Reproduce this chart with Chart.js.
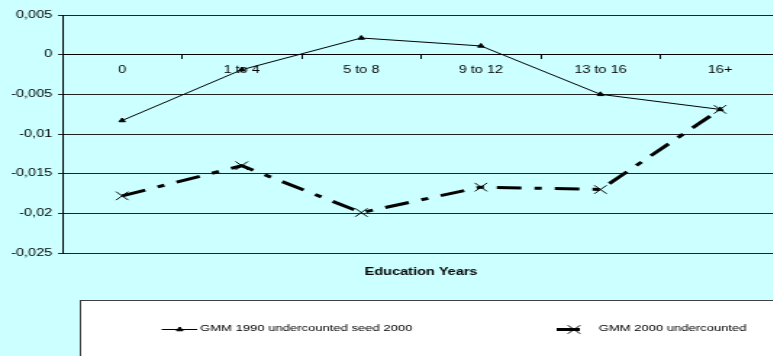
<!DOCTYPE html>
<html>
<head>
<meta charset="utf-8">
<script src="https://cdn.jsdelivr.net/npm/chart.js@4/dist/chart.umd.min.js"></script>
<style>
  html, body { margin: 0; padding: 0; background: #ccffff; overflow: hidden; width: 773px; height: 356px; }
</style>
</head>
<body>
<!-- the chart is drawn narrow and shown widened, as in the exported sheet -->
<canvas id="chart" width="545" height="356" style="display:block;width:790px;height:356px"></canvas>
<script>
// Education-year groups along the x axis
const categories = ['0', '1 to 4', '5 to 8', '9 to 12', '13 to 16', '16+'];

// Series names
const seriesNames = ['GMM 1990 undercounted seed 2000', 'GMM 2000 undercounted'];

// Estimated effects per education group
const gmm1990Seed2000 = [-0.0083, -0.0019, 0.0021, 0.0011, -0.0050, -0.0069];
const gmm2000Undercounted = [-0.0178, -0.0140, -0.0199, -0.0167, -0.0170, -0.0069];

// Y axis ticks and their labels (decimal comma)
const yTickValues = [-0.025, -0.02, -0.015, -0.01, -0.005, 0, 0.005];
const yTickLabels = ['-0,025', '-0,02', '-0,015', '-0,01', '-0,005', '0', '0,005'];

const xAxisTitle = 'Education Years';

const FONT = "'Liberation Sans', Arial, sans-serif";

// Axis title under the plot and the framed legend at the bottom
const decorations = {
  id: 'decorations',
  afterDraw(chart) {
    const ctx = chart.ctx;
    const area = chart.chartArea;
    const ds = chart.data.datasets;
    ctx.save();

    ctx.fillStyle = '#000';
    ctx.font = `bold 10px ${FONT}`;
    ctx.textAlign = 'center';
    ctx.textBaseline = 'middle';
    ctx.fillText(xAxisTitle, (area.left + area.right) / 2, 272);

    // legend frame
    ctx.fillStyle = '#ffffff';
    ctx.fillRect(55.5, 300.5, 600, 100);
    ctx.strokeStyle = '#404040';
    ctx.lineWidth = 1;
    ctx.strokeRect(55.5, 300.5, 600, 100);

    const rowY = 329;
    ctx.font = `9px ${FONT}`;
    ctx.textAlign = 'left';

    // entry 1: thin line with triangle
    ctx.strokeStyle = ds[0].borderColor;
    ctx.lineWidth = ds[0].borderWidth;
    ctx.beginPath();
    ctx.moveTo(111.5, rowY + 0.5);
    ctx.lineTo(136, rowY + 0.5);
    ctx.stroke();
    ctx.fillStyle = ds[0].pointBackgroundColor;
    Chart.helpers.drawPoint(ctx, { pointStyle: ds[0].pointStyle, radius: ds[0].pointRadius, borderWidth: ds[0].pointBorderWidth, rotation: 0 }, 124, rowY + 0.5);
    ctx.fillStyle = '#000';
    ctx.fillText(ds[0].label, 138, rowY);

    // entry 2: thick line with cross
    ctx.strokeStyle = ds[1].borderColor;
    ctx.lineWidth = ds[1].borderWidth;
    ctx.beginPath();
    ctx.moveTo(384, rowY + 0.5);
    ctx.lineTo(400, rowY + 0.5);
    ctx.stroke();
    ctx.lineWidth = ds[1].pointBorderWidth;
    Chart.helpers.drawPoint(ctx, { pointStyle: ds[1].pointStyle, radius: ds[1].pointRadius, borderWidth: ds[1].pointBorderWidth, rotation: 0 }, 396, rowY + 0.5);
    ctx.fillStyle = '#000';
    ctx.fillText(ds[1].label, 413, rowY);

    ctx.restore();
  }
};

new Chart(document.getElementById('chart'), {
  type: 'line',
  data: {
    labels: categories,
    datasets: [
      {
        label: seriesNames[0],
        data: gmm1990Seed2000,
        borderColor: '#000',
        borderWidth: 1,
        pointStyle: 'triangle',
        pointRadius: 2.5,
        pointBorderWidth: 1,
        pointBackgroundColor: '#000',
        pointBorderColor: '#000',
        tension: 0,
        fill: false
      },
      {
        label: seriesNames[1],
        data: gmm2000Undercounted,
        borderColor: '#000',
        borderWidth: 3,
        borderDash: [17, 9, 5, 9],
        pointStyle: 'crossRot',
        pointRadius: 6,
        pointBorderWidth: 1,
        pointBackgroundColor: '#000',
        pointBorderColor: '#000',
        tension: 0,
        fill: false
      }
    ]
  },
  options: {
    responsive: false,
    animation: false,
    devicePixelRatio: 1,
    layout: { padding: { top: 15, bottom: 103, left: 0, right: 1 } },
    plugins: {
      legend: { display: false },
      tooltip: { enabled: false }
    },
    scales: {
      x: {
        type: 'category',
        position: { y: 0 },
        offset: true,
        grid: { offset: true, drawOnChartArea: false, drawTicks: true, tickLength: 4, color: '#000' },
        border: { display: true, color: '#000', width: 1 },
        ticks: { padding: 6, color: '#000', font: { family: FONT, size: 10 }, maxRotation: 0, autoSkip: false }
      },
      y: {
        type: 'linear',
        min: -0.025,
        max: 0.005,
        afterBuildTicks(scale) {
          scale.ticks = yTickValues.map(v => ({ value: v }));
        },
        afterFit(scale) { scale.width = 43; },
        grid: { color: '#222', tickLength: 3, drawTicks: true },
        border: { display: true, color: '#000', width: 1 },
        ticks: {
          padding: 4,
          color: '#000',
          font: { family: FONT, size: 10 },
          callback: (v) => yTickLabels[yTickValues.indexOf(v)]
        }
      }
    }
  },
  plugins: [decorations]
});
</script>
</body>
</html>
